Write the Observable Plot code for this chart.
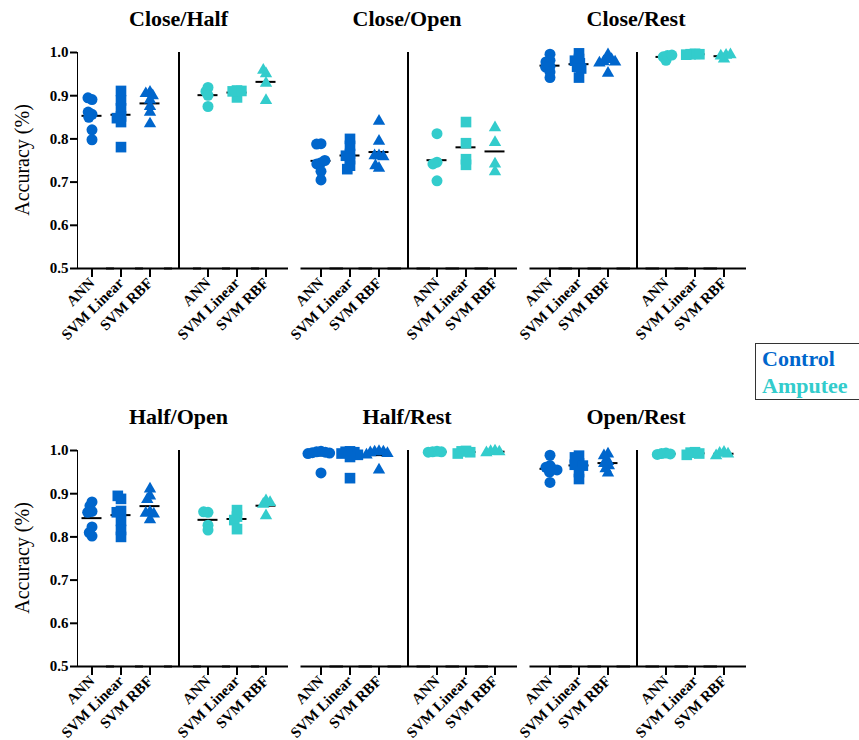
<!DOCTYPE html>
<html><head><meta charset="utf-8">
<script src="https://cdn.jsdelivr.net/npm/d3@7"></script>
<script src="https://cdn.jsdelivr.net/npm/@observablehq/plot@0.6"></script>
<style>
body{margin:0;background:#fff;}
#chart{position:relative;width:859px;height:740px;overflow:hidden;background:#fff;}
.panel{position:absolute;}
.title{position:absolute;font-family:"Liberation Serif",serif;font-weight:bold;font-size:22px;transform:translateX(-50%);white-space:nowrap;color:#000;}
.ylab{position:absolute;font-family:"Liberation Serif",serif;font-size:20px;transform:translate(-50%,-50%) rotate(-90deg);white-space:nowrap;color:#000;}
.legend{position:absolute;left:755px;top:343px;width:120px;height:57px;border:1px solid #333;box-sizing:border-box;font-family:"Liberation Serif",serif;font-weight:bold;font-size:22px;line-height:27px;padding:1px 0 0 6px;}
svg [aria-label*="axis"] path, svg [aria-label*="axis"] line{stroke-width:2px;}
</style></head>
<body><div id="chart"></div>
<script>
// ---- categories ----
const panelNames = ["Close/Half", "Close/Open", "Close/Rest", "Half/Open", "Half/Rest", "Open/Rest"];
const groups = ["Control", "Amputee"];
const methods = ["ANN", "SVM Linear", "SVM RBF"];
const groupColors = ["#0066cc", "#33cccc"];
const methodSymbols = ["circle", "square", "triangle"];
const methodRadius = [5.5, 6, 4.6];
const yTicks = [0.5, 0.6, 0.7, 0.8, 0.9, 1.0];
const yLabel = "Accuracy (%)";

// ---- values: [ANN, SVM Linear, SVM RBF] per group ----
const closeHalfControl = [
  [0.891, 0.895, 0.857, 0.862, 0.850, 0.821, 0.798],
  [0.911, 0.889, 0.871, 0.852, 0.848, 0.839, 0.781],
  [0.908, 0.905, 0.900, 0.890, 0.875, 0.862, 0.835]];
const closeHalfAmputee = [
  [0.919, 0.910, 0.901, 0.875],
  [0.896, 0.912, 0.910, 0.911],
  [0.951, 0.959, 0.929, 0.889]];
const closeOpenControl = [
  [0.789, 0.788, 0.745, 0.742, 0.750, 0.725, 0.705],
  [0.800, 0.784, 0.765, 0.761, 0.753, 0.738, 0.730],
  [0.841, 0.795, 0.761, 0.761, 0.759, 0.732, 0.738]];
const closeOpenAmputee = [
  [0.812, 0.746, 0.742, 0.703],
  [0.839, 0.790, 0.753, 0.740],
  [0.826, 0.792, 0.742, 0.724]];
const closeRestControl = [
  [0.996, 0.982, 0.978, 0.968, 0.966, 0.955, 0.942],
  [0.998, 0.985, 0.981, 0.975, 0.967, 0.963, 0.942],
  [0.995, 0.985, 0.984, 0.979, 0.978, 0.976, 0.952]];
const closeRestAmputee = [
  [0.982, 0.990, 0.993, 0.994],
  [0.997, 0.996, 0.996, 0.995],
  [0.985, 0.992, 0.994, 0.995]];
const halfOpenControl = [
  [0.881, 0.872, 0.859, 0.857, 0.823, 0.802, 0.810],
  [0.888, 0.895, 0.860, 0.857, 0.837, 0.816, 0.800],
  [0.911, 0.895, 0.887, 0.858, 0.855, 0.853, 0.840]];
const halfOpenAmputee = [
  [0.857, 0.858, 0.827, 0.816],
  [0.847, 0.862, 0.839, 0.818],
  [0.884, 0.876, 0.880, 0.849]];
const halfRestControl = [
  [0.998, 0.997, 0.996, 0.995, 0.994, 0.993, 0.948],
  [0.998, 0.997, 0.996, 0.993, 0.990, 0.985, 0.936],
  [0.998, 0.997, 0.997, 0.995, 0.993, 0.990, 0.955]];
const halfRestAmputee = [
  [0.998, 0.997, 0.997, 0.996],
  [0.999, 0.998, 0.996, 0.993],
  [0.999, 0.998, 0.997, 0.995]];
const openRestControl = [
  [0.989, 0.965, 0.961, 0.957, 0.955, 0.950, 0.926],
  [0.988, 0.984, 0.970, 0.967, 0.965, 0.950, 0.934],
  [0.992, 0.988, 0.975, 0.970, 0.965, 0.958, 0.948]];
const openRestAmputee = [
  [0.994, 0.993, 0.992, 0.991],
  [0.996, 0.995, 0.993, 0.990],
  [0.996, 0.994, 0.992, 0.988]];

const panelValues = [
  [closeHalfControl, closeHalfAmputee],
  [closeOpenControl, closeOpenAmputee],
  [closeRestControl, closeRestAmputee],
  [halfOpenControl, halfOpenAmputee],
  [halfRestControl, halfRestAmputee],
  [openRestControl, openRestAmputee]];

// ---- layout ----
const rowTop = [40, 438];
const facetStart = [77, 305.5, 534.5];
const step = 29;
const chart = document.getElementById("chart");

const keyOf = (g, m) => g + "|" + m;
const fxTicks = groups.flatMap(g => methods.map(m => keyOf(g, m)));
const fxDomain = [...fxTicks.slice(0, 3), "sep", ...fxTicks.slice(3)];
const fxFormat = k => (k.split("|")[1] || "");
const hasAxisMarks = typeof Plot.axisFx === "function";

panelNames.forEach((name, p) => {
  const col = p % 3, row = Math.floor(p / 3);
  const rows = [];
  groups.forEach((g, gi) => methods.forEach((m, mi) => panelValues[p][gi][mi].forEach(v =>
    rows.push({group: g, method: m, gi, mi, key: keyOf(g, m), value: v}))));
  const marginLeft = col === 0 ? facetStart[0] : 10;
  const width = marginLeft + step * 7 + 10;
  const left = facetStart[col] - marginLeft;

  const dots = [];
  groups.forEach((g, gi) => methods.forEach((m, mi) => {
    dots.push(Plot.dot(rows.filter(d => d.gi === gi && d.mi === mi),
      Plot.dodgeX({anchor: "middle", padding: 0, r: 2.2},
        {y: "value", fx: "key", r: methodRadius[mi], symbol: methodSymbols[mi], fill: groupColors[gi]})));
  }));

  const fxOpts = {domain: fxDomain, padding: 0, label: null};
  const axisMarks = [];
  if (hasAxisMarks) {
    fxOpts.axis = null;
    axisMarks.push(Plot.axisFx({anchor: "bottom", ticks: fxTicks, tickFormat: fxFormat, tickRotate: -45,
      tickSize: 9, tickPadding: 3, label: null, strokeWidth: 2}));
  } else {
    Object.assign(fxOpts, {axis: "bottom", ticks: fxTicks, tickFormat: fxFormat, tickRotate: -45, tickSize: 9, tickPadding: 3});
  }

  const svg = Plot.plot({
    width, height: 308,
    marginTop: 12, marginBottom: 80, marginLeft, marginRight: 10,
    style: {fontFamily: "'Liberation Serif', serif", fontWeight: "bold", fontSize: "15px", overflow: "visible", background: "transparent", color: "#000"},
    x: {domain: [-1, 1], axis: null},
    y: col === 0
      ? {domain: [0.5, 1], ticks: yTicks, tickFormat: d3.format(".1f"), line: true, tickSize: 7, tickPadding: 2, label: null}
      : {domain: [0.5, 1], axis: null},
    fx: fxOpts,
    marks: [
      Plot.ruleY([yTicks[0]], {strokeWidth: 2, insetLeft: col === 0 ? 0 : -5.5, insetRight: -8}),
      Plot.ruleX(fxTicks, {fx: d => d, x: () => 0, y1: () => yTicks[0], y2: () => yTicks[0], insetBottom: -9, strokeWidth: 2}),
      Plot.ruleX(["sep"], {x: () => 0, fx: d => d, strokeWidth: 2}),
      Plot.ruleY(rows, Plot.groupZ({y: "mean"}, {y: "value", fx: "key", stroke: "#000", strokeWidth: 2, insetLeft: 4.5, insetRight: 4.5})),
      ...axisMarks,
      ...dots
    ]
  });
  svg.classList.add("panel");
  svg.style.left = left + "px";
  svg.style.top = rowTop[row] + "px";
  chart.appendChild(svg);

  const t = document.createElement("div");
  t.className = "title";
  t.textContent = name;
  t.style.left = (facetStart[col] + step * 3.5) + "px";
  t.style.top = (rowTop[row] - 34) + "px";
  chart.appendChild(t);
});

[0, 1].forEach(row => {
  const l = document.createElement("div");
  l.className = "ylab";
  l.textContent = yLabel;
  l.style.left = "22px";
  l.style.top = (rowTop[row] + 12 + 108) + "px";
  chart.appendChild(l);
});

const legend = document.createElement("div");
legend.className = "legend";
groups.forEach((g, gi) => {
  const d = document.createElement("div");
  d.textContent = g;
  d.style.color = groupColors[gi];
  legend.appendChild(d);
});
chart.appendChild(legend);
</script>
</body></html>
